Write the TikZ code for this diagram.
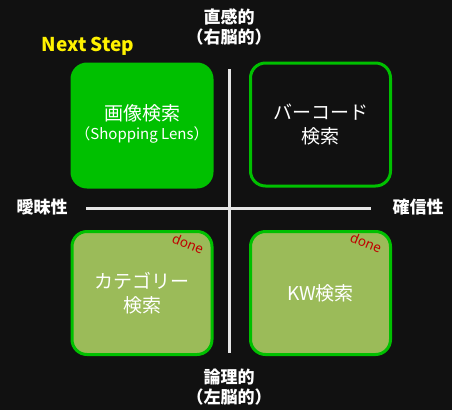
\documentclass[tikz,border=0pt]{standalone}
\usepackage{fontspec}
\setmainfont{Noto Sans CJK JP}
\newfontfamily\donefont{Noto Sans}
\definecolor{bg}{HTML}{111111}
\definecolor{gr}{HTML}{00C000}
\definecolor{olive}{HTML}{9BBB59}
\definecolor{donered}{HTML}{C00000}
\definecolor{axis}{HTML}{E6E6E6}
\tikzset{
  quad/.style={draw=gr, line width=3pt, rounded corners=15pt, minimum width=140pt, minimum height=123pt, inner sep=0pt, text=white, align=center, font=\fontsize{19}{24}\selectfont},
  axisline/.style={draw=axis, line width=3pt},
  axlabel/.style={text=white, align=center, font=\bfseries\fontsize{17}{20}\selectfont, inner sep=0pt},
  donelabel/.style={text=donered, font=\donefont\fontsize{13.5}{15}\selectfont, rotate=-22, inner sep=0pt}
}
\begin{document}
\begin{tikzpicture}[x=1pt,y=-1pt]
\path[fill=bg] (0,0) rectangle (452,410);
\useasboundingbox (0,0) rectangle (452,410);
\coordinate (vt) at (229,69);
\coordinate (vb) at (229,353);
\coordinate (hl) at (86,208);
\coordinate (hr) at (371,208);
\draw[axisline] (vt) -- (vb);
\draw[axisline] (hl) -- (hr);
\node[quad, fill=gr] (img) at (142,125.5) {};
\node[text=white, font=\fontsize{19}{22}\selectfont, inner sep=0pt] (imgt) at (142,113) {画像検索};
\node[text=white, font=\fontsize{15}{18}\selectfont, inner sep=0pt] (imgs) at (142,135) {（Shopping Lens）};
\node[quad, fill=bg] (bar) at (320.5,124.5) {バーコード\\検索};
\node[quad, fill=olive] (cat) at (142,293) {カテゴリー\\検索};
\node[quad, fill=olive] (kw) at (320.5,293) {KW検索};
\node[donelabel] (done1) at (188,244) {done};
\node[donelabel] (done2) at (366,243) {done};
\node[axlabel] (top) at (229,27) {直感的\\（右脳的）};
\node[axlabel] (bot) at (229,387) {論理的\\（左脳的）};
\node[axlabel] (left) at (42,207) {曖昧性};
\node[axlabel] (right) at (418,207) {確信性};
\node[text=yellow, font=\bfseries\fontsize{19}{22}\selectfont, inner sep=0pt] (next) at (88,46) {Next Step};
\end{tikzpicture}
\end{document}
